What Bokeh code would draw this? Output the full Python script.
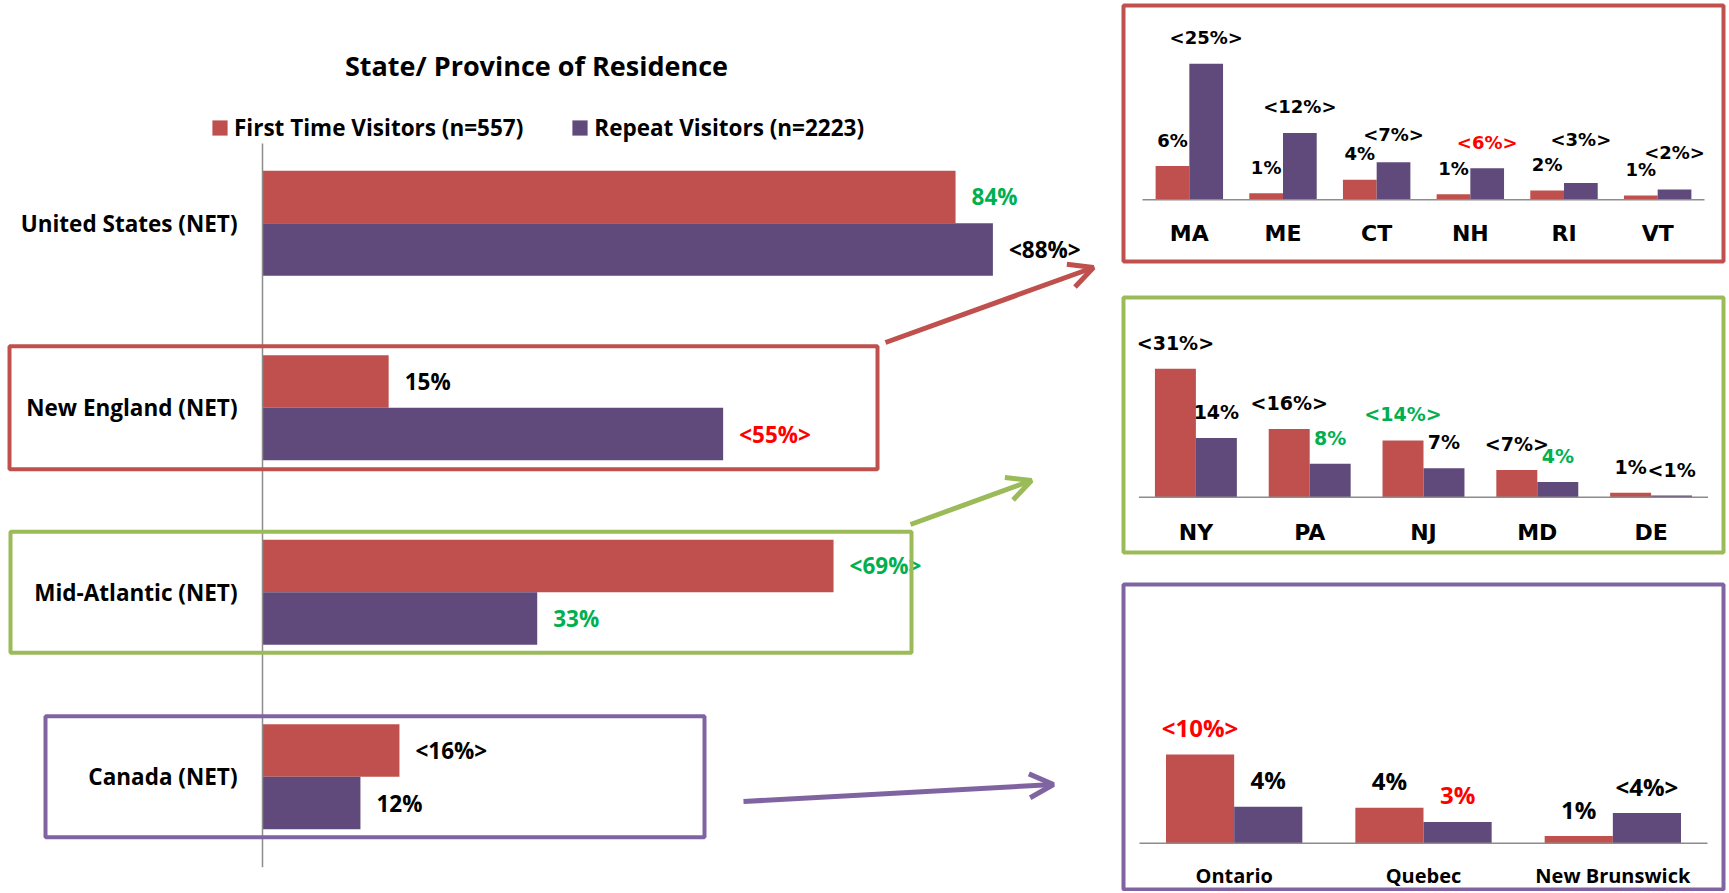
from bokeh.plotting import figure
from bokeh.models import (ColumnDataSource, FactorRange, Range1d, Legend, LegendItem,
                          Label, Arrow, OpenHead)
from bokeh.transform import dodge
from bokeh.layouts import row, column
from bokeh.core.properties import value
from bokeh.embed import file_html
from bokeh.resources import INLINE

# ------------------------------------------------------------------ data
title_text = "State/ Province of Residence"
series_names = ["First Time Visitors (n=557)", "Repeat Visitors (n=2223)"]

regions = ["United States (NET)", "New England (NET)", "Mid-Atlantic (NET)", "Canada (NET)"]
region_first = [83.5, 15.2, 68.8, 16.5]
region_repeat = [88.0, 55.5, 33.1, 11.8]
region_first_labels = ["84%", "15%", "<69%>", "<16%>"]
region_repeat_labels = ["<88%>", "<55%>", "33%", "12%"]

ne_states = ["MA", "ME", "CT", "NH", "RI", "VT"]
ne_first = [6.2, 1.2, 3.7, 1.0, 1.7, 0.8]
ne_repeat = [25.0, 12.3, 6.9, 5.8, 3.1, 1.9]
ne_first_labels = ["6%", "1%", "4%", "1%", "2%", "1%"]
ne_repeat_labels = ["<25%>", "<12%>", "<7%>", "<6%>", "<3%>", "<2%>"]

ma_states = ["NY", "PA", "NJ", "MD", "DE"]
ma_first = [31.0, 16.5, 13.7, 6.6, 1.1]
ma_repeat = [14.3, 8.1, 7.0, 3.7, 0.4]
ma_first_labels = ["<31%>", "<16%>", "<14%>", "<7%>", "1%"]
ma_repeat_labels = ["14%", "8%", "7%", "4%", "<1%"]

ca_provinces = ["Ontario", "Quebec", "New Brunswick"]
ca_first = [10.0, 4.0, 0.8]
ca_repeat = [4.1, 2.4, 3.4]
ca_first_labels = ["<10%>", "4%", "1%"]
ca_repeat_labels = ["4%", "3%", "<4%>"]

# ------------------------------------------------------------------ styles
RED_BAR = "#C0504D"
PURPLE_BAR = "#604A7B"
BOX_RED = "#C0504D"
BOX_GREEN = "#9BBB59"
BOX_PURPLE = "#8064A2"
BLACK = "#000000"
GREEN_T = "#00B050"
RED_T = "#FF0000"
AXIS_GREY = "#8C8C8C"
MAIN_FONT = "Open Sans"
PANEL_FONT = "DejaVu Sans"

region_first_colors = [GREEN_T, BLACK, GREEN_T, BLACK]
region_repeat_colors = [BLACK, RED_T, GREEN_T, BLACK]
ne_first_colors = [BLACK] * 6
ne_repeat_colors = [BLACK, BLACK, BLACK, RED_T, BLACK, BLACK]
ma_first_colors = [BLACK, BLACK, GREEN_T, BLACK, BLACK]
ma_repeat_colors = [BLACK, GREEN_T, BLACK, GREEN_T, BLACK]
ca_first_colors = [RED_T, BLACK, BLACK]
ca_repeat_colors = [BLACK, RED_T, BLACK]

# extra lift (px) of some labels so that neighbours do not collide
ne_first_lift = [0, 0, 0, 0, 0, 0]
ne_repeat_lift = [0, 0, 2, 0, 17, 11]

# ------------------------------------------------------------------ title strip
LEFT_W = 1110
TITLE_H = 100
tp = figure(width=LEFT_W, height=TITLE_H, output_backend="svg", toolbar_location=None,
            x_axis_location=None, y_axis_location=None,
            x_range=Range1d(0, 1), y_range=Range1d(0, 1),
            min_border_left=0, min_border_right=0, min_border_top=0, min_border_bottom=0)
tp.outline_line_color = None
tp.grid.visible = False
tp.add_layout(Label(x=536, y=TITLE_H - 65, x_units="screen", y_units="screen",
                    text=title_text, text_font=MAIN_FONT, text_font_size="27px",
                    text_font_style="bold", text_color=BLACK,
                    text_align="center", text_baseline="middle"))

# ------------------------------------------------------------------ main chart
H = 791                 # main chart height (page y 100 .. 891)
CAT_PX = 184.5          # pixel height of one category slot
MAIN_TOP = 8
PAD_PX = (H - MAIN_TOP - len(regions) * CAT_PX) / 2
ZERO_PX = 262           # pixel position of 0 %
PX_PCT = 8.3            # pixels per percent

p = figure(width=LEFT_W, height=H, output_backend="svg", toolbar_location=None,
           x_axis_location=None, y_axis_location=None,
           x_range=Range1d(-ZERO_PX / PX_PCT, (LEFT_W - ZERO_PX) / PX_PCT),
           y_range=FactorRange(factors=regions[::-1],
                               range_padding=2 * (PAD_PX / CAT_PX) / len(regions),
                               range_padding_units="percent"),
           min_border_left=0, min_border_right=0, min_border_top=MAIN_TOP,
           min_border_bottom=0)
p.outline_line_color = None
p.grid.visible = False

src = ColumnDataSource(dict(cat=regions, first=region_first, repeat=region_repeat,
                            fl=region_first_labels, rl=region_repeat_labels,
                            fc=region_first_colors, rc=region_repeat_colors))
BAR_H = 0.285
OFF = BAR_H / 2
r1 = p.hbar(y=dodge("cat", OFF, range=p.y_range), left=0, right="first", height=BAR_H,
            source=src, fill_color=RED_BAR, line_color=None)
r2 = p.hbar(y=dodge("cat", -OFF, range=p.y_range), left=0, right="repeat", height=BAR_H,
            source=src, fill_color=PURPLE_BAR, line_color=None)

txt = dict(text_font=value(MAIN_FONT), text_font_size="22.5px", text_font_style="bold",
           text_baseline="middle", source=src)
p.text(x="first", y=dodge("cat", OFF, range=p.y_range), text="fl", text_color="fc",
       x_offset=16, text_align="left", **txt)
p.text(x="repeat", y=dodge("cat", -OFF, range=p.y_range), text="rl", text_color="rc",
       x_offset=16, text_align="left", **txt)
p.text(x=0, y="cat", text="cat", text_color=BLACK, x_offset=-25, text_align="right", **txt)

axis_src = ColumnDataSource(dict(top=[regions[0]], bottom=[regions[-1]]))
p.segment(x0=0, x1=0, y0=dodge("top", 0.432, range=p.y_range),
          y1=dodge("bottom", -0.49, range=p.y_range), line_color=AXIS_GREY,
          line_width=1.5, source=axis_src)


# highlight boxes (decoration): pixel extents converted to % units
def px2x(px):
    return (px - ZERO_PX) / PX_PCT


box_l = [9, 10, 45]
box_r = [877, 911, 704]
box_src = ColumnDataSource(dict(
    cat=regions[1:],
    x=[(px2x(a) + px2x(b)) / 2 for a, b in zip(box_l, box_r)],
    w=[px2x(b) - px2x(a) for a, b in zip(box_l, box_r)],
    h=[0.667, 0.656, 0.656],
    c=[BOX_RED, BOX_GREEN, BOX_PURPLE]))
p.rect(x="x", y="cat", width="w", height="h", fill_color=None, line_color="c",
       line_width=4, source=box_src)

legend = Legend(items=[LegendItem(label=series_names[0], renderers=[r1]),
                       LegendItem(label=series_names[1], renderers=[r2])],
                orientation="horizontal", location=(210, H - 42.5),
                label_text_font=MAIN_FONT, label_text_font_size="22.5px",
                label_text_font_style="bold", label_text_color=BLACK,
                glyph_width=19, glyph_height=19,
                label_standoff=5, spacing=47, padding=0, margin=0,
                border_line_color=None, background_fill_alpha=0)
p.add_layout(legend)

# arrows (decoration), page coordinates -> screen units of this plot
PAGE_Y0 = TITLE_H
for (xs, ys, xe, ye, c) in [(885, 342, 1093, 267, BOX_RED),
                            (910, 524, 1031, 480, BOX_GREEN),
                            (743, 801, 1053, 784, BOX_PURPLE)]:
    p.add_layout(Arrow(x_start=xs, y_start=H - (ys - PAGE_Y0),
                       x_end=xe, y_end=H - (ye - PAGE_Y0),
                       start_units="screen", end_units="screen",
                       line_color=c, line_width=5,
                       end=OpenHead(size=24, line_color=c, line_width=5)))


# ------------------------------------------------------------------ panels
def panel(cats, first, repeat, flab, rlab, fcol, rcol, *, color, width, height,
          left, right, top, bottom, inset, px_pct, base, val_font, val_size,
          cat_font, cat_size, cat_gap, val_gap, flift=None, rlift=None):
    frame_w = width - left - right
    frame_h = height - top - bottom
    unit = (frame_w - 2 * inset) / len(cats)
    q = figure(width=width, height=height, output_backend="svg", toolbar_location=None,
               x_axis_location=None, y_axis_location=None,
               x_range=FactorRange(factors=cats,
                                   range_padding=2 * (inset / unit) / len(cats),
                                   range_padding_units="percent"),
               y_range=Range1d(-base / px_pct, (frame_h - base) / px_pct),
               min_border_left=left, min_border_right=right,
               min_border_top=top, min_border_bottom=bottom)
    q.grid.visible = False
    q.outline_line_color = color
    q.outline_line_width = 4
    flift = flift or [0] * len(cats)
    rlift = rlift or [0] * len(cats)
    s = ColumnDataSource(dict(cat=cats, first=first, repeat=repeat, fl=flab, rl=rlab,
                              fc=fcol, rc=rcol,
                              fo=[-(val_gap + v) for v in flift],
                              ro=[-(val_gap + v) for v in rlift]))
    bw = 0.36
    q.vbar(x=dodge("cat", -bw / 2, range=q.x_range), bottom=0, top="first", width=bw,
           source=s, fill_color=RED_BAR, line_color=None)
    q.vbar(x=dodge("cat", bw / 2, range=q.x_range), bottom=0, top="repeat", width=bw,
           source=s, fill_color=PURPLE_BAR, line_color=None)
    ends = ColumnDataSource(dict(a=[cats[0]], b=[cats[-1]]))
    q.segment(x0=dodge("a", -0.5, range=q.x_range), x1=dodge("b", 0.5, range=q.x_range),
              y0=0, y1=0, line_color=AXIS_GREY, line_width=1.5, source=ends)
    vt = dict(text_font=value(val_font), text_font_size=val_size, text_font_style="bold",
              text_align="center", text_baseline="middle", source=s)
    q.text(x=dodge("cat", -bw / 2, range=q.x_range), y="first", text="fl",
           text_color="fc", y_offset="fo", **vt)
    q.text(x=dodge("cat", bw / 2, range=q.x_range), y="repeat", text="rl",
           text_color="rc", y_offset="ro", **vt)
    q.text(x="cat", y=0, text="cat", text_color=BLACK, text_font=value(cat_font),
           text_font_size=cat_size, text_font_style="bold", text_align="center",
           text_baseline="middle", y_offset=cat_gap, source=s)
    return q


RIGHT_W = 617
PL, PR = 13, 4          # common frame margins (frames of a column are aligned)
p1 = panel(ne_states, ne_first, ne_repeat, ne_first_labels, ne_repeat_labels,
           ne_first_colors, ne_repeat_colors, color=BOX_RED, width=RIGHT_W, height=280,
           left=PL, right=PR, top=5, bottom=19, inset=19, px_pct=5.44, base=61.7,
           val_font=PANEL_FONT, val_size="18px", cat_font=PANEL_FONT, cat_size="22px",
           cat_gap=34, val_gap=26, flift=ne_first_lift, rlift=ne_repeat_lift)
p2 = panel(ma_states, ma_first, ma_repeat, ma_first_labels, ma_repeat_labels,
           ma_first_colors, ma_repeat_colors, color=BOX_GREEN, width=RIGHT_W, height=290,
           left=PL, right=PR, top=17, bottom=18, inset=15.5, px_pct=4.14, base=55.3,
           val_font=PANEL_FONT, val_size="19px", cat_font=PANEL_FONT, cat_size="22px",
           cat_gap=35, val_gap=26)
p3 = panel(ca_provinces, ca_first, ca_repeat, ca_first_labels, ca_repeat_labels,
           ca_first_colors, ca_repeat_colors, color=BOX_PURPLE, width=RIGHT_W, height=321,
           left=PL, right=PR, top=14, bottom=2, inset=16, px_pct=8.87, base=46.3,
           val_font=MAIN_FONT, val_size="24px", cat_font=MAIN_FONT, cat_size="20px",
           cat_gap=32, val_gap=27)

layout = row(column(tp, p), column(p1, p2, p3))
open("out.html", "w").write(file_html(layout, INLINE, "State/ Province of Residence"))
